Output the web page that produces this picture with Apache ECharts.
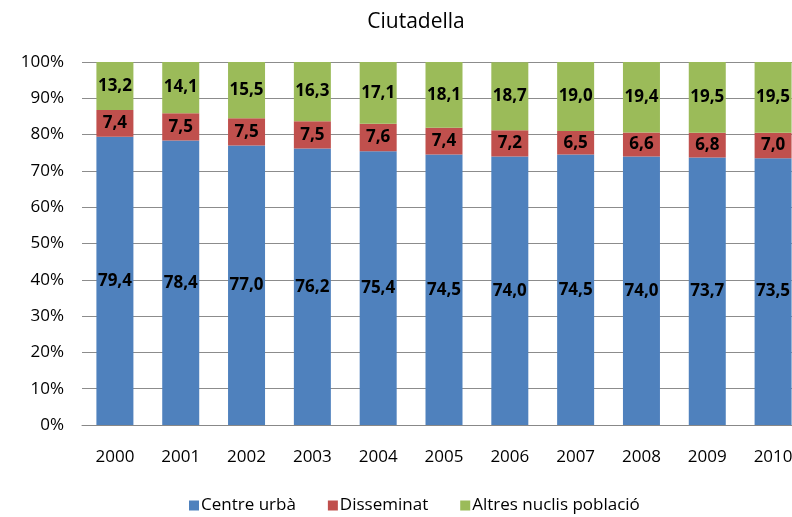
<!DOCTYPE html>
<html>
<head>
<meta charset="utf-8">
<script src="https://cdn.jsdelivr.net/npm/echarts@6/dist/echarts.min.js"></script>
<style>html,body{margin:0;padding:0;background:#fff;overflow:hidden;width:792px;height:517px;}#c{width:806px;height:517px;}</style>
</head>
<body>
<div id="c"></div>
<script>
const years = ['2000','2001','2002','2003','2004','2005','2006','2007','2008','2009','2010'];
const centreUrba = [79.4,78.4,77.0,76.2,75.4,74.5,74.0,74.5,74.0,73.7,73.5];
const disseminat = [7.4,7.5,7.5,7.5,7.6,7.4,7.2,6.5,6.6,6.8,7.0];
const altresNuclis = [13.2,14.1,15.5,16.3,17.1,18.1,18.7,19.0,19.4,19.5,19.5];
const seriesNames = ['Centre urbà','Disseminat','Altres nuclis població'];
const yTicks = [0,10,20,30,40,50,60,70,80,90,100];

const FONT = 'Open Sans';
const chart = echarts.init(document.getElementById('c'), null, {renderer:'canvas'});
const fmt = p => p.value.toFixed(1).replace('.', ',');
const lbl = {show:true, position:'inside', formatter: fmt, color:'#000', fontFamily: FONT, fontSize:17, fontWeight:'bold'};
function mk(name, data, color){
  return {name, type:'bar', stack:'total', data, barWidth:37, itemStyle:{color}, label:lbl, clip:true};
}
chart.setOption({
  animation:false,
  textStyle:{fontFamily:FONT},
  title:{text:'Ciutadella', left:411, top:7, textAlign:'center', textStyle:{fontFamily:FONT, fontSize:21, fontWeight:'normal', color:'#000'}},
  legend:{bottom:-2, left:184, itemWidth:10, itemHeight:10, itemGap:32, icon:'rect',
    textStyle:{fontFamily:FONT, fontSize:17, color:'#000', padding:[0,0,0,-3]}, data:seriesNames},
  grid:{left:82, top:62, bottom:92, right:0, containLabel:false},
  xAxis:{type:'category', data:years, axisTick:{show:false},
    axisLine:{lineStyle:{color:'#888'}},
    axisLabel:{color:'#000', fontFamily:FONT, fontSize:17, margin:24}},
  yAxis:{type:'value', min:0, max:100, interval:10,
    axisLine:{show:false}, axisTick:{show:false},
    splitLine:{lineStyle:{color:'#8c8c8c', width:1}},
    axisLabel:{color:'#000', fontFamily:FONT, fontSize:17, margin:18, formatter: v => yTicks.includes(v) ? v + '%' : ''}},
  series:[
    mk(seriesNames[0], centreUrba, '#4F81BD'),
    mk(seriesNames[1], disseminat, '#C0504D'),
    mk(seriesNames[2], altresNuclis, '#9BBB59')
  ]
});
</script>
</body>
</html>
